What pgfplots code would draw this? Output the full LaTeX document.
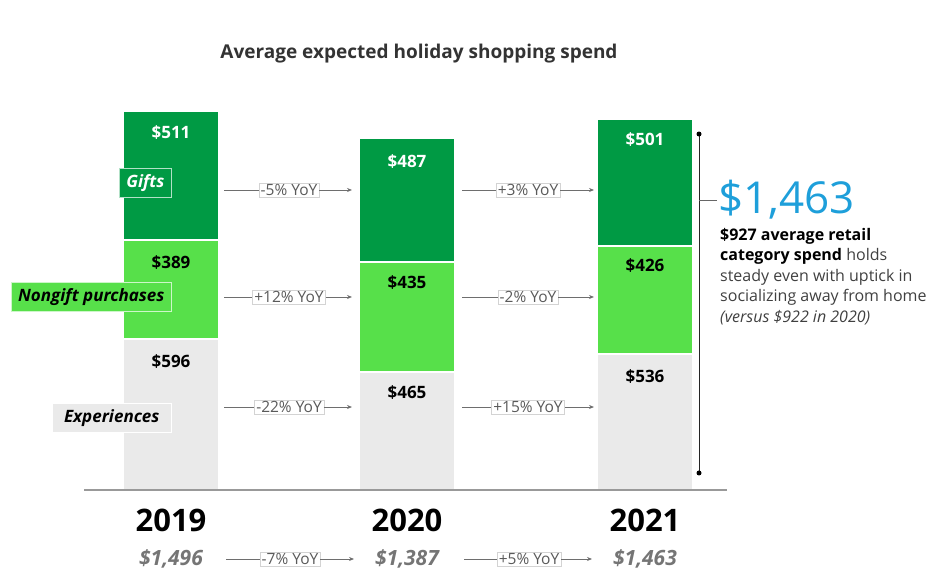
\documentclass[border=0pt]{standalone}
\usepackage{fontspec}
\setmainfont{Open Sans}
\usepackage{pgfplots}
\pgfplotsset{compat=1.18}
\usetikzlibrary{arrows.meta}
\definecolor{giftg}{HTML}{009A44}
\definecolor{nong}{HTML}{57E04A}
\definecolor{expg}{HTML}{EAEAEA}
\definecolor{arrowg}{HTML}{6E6E6E}
\definecolor{boxg}{HTML}{D3D3D3}
\definecolor{txtg}{HTML}{5A5A5A}
\definecolor{blueone}{HTML}{1E9FDA}
\definecolor{sumg}{HTML}{757575}
\definecolor{titleg}{HTML}{333333}
\definecolor{parag}{HTML}{404040}
\tikzset{
  yoyline/.style={arrowg, line width=0.8pt},
  yoyarrow/.style={arrowg, line width=0.8pt, -{Stealth[length=5pt,width=4pt]}},
  yoybox/.style={draw=boxg, fill=white, text=txtg, font=\fontsize{15.5}{17}\selectfont, inner xsep=2pt, inner ysep=1.5pt},
  vallab/.style={font=\fontsize{17}{20}\selectfont\bfseries},
  catlab/.style={anchor=east, line width=1pt, minimum height=29pt, font=\fontsize{17}{20}\selectfont\bfseries\itshape},
  yearlab/.style={font=\fontsize{31}{34}\selectfont\bfseries, text=black},
  sumlab/.style={font=\fontsize{21}{24}\selectfont\bfseries\itshape, text=sumg},
}
\begin{document}
\begin{tikzpicture}
\begin{axis}[
  width=935pt, height=584pt, scale only axis,
  xmin=0, xmax=935, ymin=-370.83, ymax=1933.05,
  hide axis, clip=false,
  ybar, bar width=96pt, bar shift=0pt,
]
% cumulative tops: experiences + nongift + gifts (511/389/596, 487/435/465, 501/426/536)
\addplot[fill=giftg, draw=white, line width=2pt] coordinates {(171,1496) (407,1387) (645,1463)};
\addplot[fill=nong, draw=white, line width=2pt] coordinates {(171,985) (407,900) (645,962)};
\addplot[fill=expg, draw=white, line width=2pt] coordinates {(171,596) (407,465) (645,536)};

\path (rel axis cs:0,0) rectangle (rel axis cs:1,1);

\draw[black!40, line width=2pt] (axis cs:84,0) -- (axis cs:727,0);

\node[font=\fontsize{19}{22}\selectfont\bfseries, text=titleg] at (axis cs:419,1720) {Average expected holiday shopping spend};

\node[vallab, text=white] at (axis cs:171,1412) {\$511};
\node[vallab, text=black] at (axis cs:171,899) {\$389};
\node[vallab, text=black] at (axis cs:171,505) {\$596};
\node[vallab, text=white] at (axis cs:407,1294) {\$487};
\node[vallab, text=black] at (axis cs:407,817) {\$435};
\node[vallab, text=black] at (axis cs:407,383) {\$465};
\node[vallab, text=white] at (axis cs:645,1381) {\$501};
\node[vallab, text=black] at (axis cs:645,884) {\$426};
\node[vallab, text=black] at (axis cs:645,446) {\$536};

\node[catlab, fill=giftg, draw=white!70!giftg, text=white, inner xsep=7pt] at (axis cs:172,1211) {Gifts};
\node[catlab, fill=nong, draw=white!70!nong, text=black, inner xsep=7pt] at (axis cs:172,761) {Nongift purchases};
\node[catlab, fill=expg, draw=white, text=black, inner xsep=12pt] at (axis cs:172,284) {Experiences};

\node[yoybox] (a1) at (axis cs:289,1183.5) {-5\% YoY};
\draw[yoyline] (axis cs:224,1183.5) -- (a1.west); \draw[yoyarrow] (a1.east) -- (axis cs:352,1183.5);
\node[yoybox] (a2) at (axis cs:289,761.4) {+12\% YoY};
\draw[yoyline] (axis cs:224,761.4) -- (a2.west); \draw[yoyarrow] (a2.east) -- (axis cs:352,761.4);
\node[yoybox] (a3) at (axis cs:289,327.4) {-22\% YoY};
\draw[yoyline] (axis cs:224,327.4) -- (a3.west); \draw[yoyarrow] (a3.east) -- (axis cs:352,327.4);
\node[yoybox] (b1) at (axis cs:528,1183.5) {+3\% YoY};
\draw[yoyline] (axis cs:462,1183.5) -- (b1.west); \draw[yoyarrow] (b1.east) -- (axis cs:594,1183.5);
\node[yoybox] (b2) at (axis cs:528,761.4) {-2\% YoY};
\draw[yoyline] (axis cs:462,761.4) -- (b2.west); \draw[yoyarrow] (b2.east) -- (axis cs:594,761.4);
\node[yoybox] (b3) at (axis cs:528,327.4) {+15\% YoY};
\draw[yoyline] (axis cs:462,327.4) -- (b3.west); \draw[yoyarrow] (b3.east) -- (axis cs:594,327.4);
\node[yoybox] (c1) at (axis cs:290,-272.2) {-7\% YoY};
\draw[yoyline] (axis cs:226,-272.2) -- (c1.west); \draw[yoyarrow] (c1.east) -- (axis cs:354,-272.2);
\node[yoybox] (c2) at (axis cs:529,-272.2) {+5\% YoY};
\draw[yoyline] (axis cs:464,-272.2) -- (c2.west); \draw[yoyarrow] (c2.east) -- (axis cs:592,-272.2);

\node[yearlab] at (axis cs:171,-118.4) {2019};
\node[yearlab] at (axis cs:407,-118.4) {2020};
\node[yearlab] at (axis cs:645,-118.4) {2021};
\node[sumlab] at (axis cs:171,-272.2) {\$1,496};
\node[sumlab] at (axis cs:407,-272.2) {\$1,387};
\node[sumlab] at (axis cs:645,-272.2) {\$1,463};

\draw[black!85, line width=1pt] (axis cs:699,1404.4) -- (axis cs:699,67.1);
\fill[black] (axis cs:699,1404.4) circle[radius=2.5pt];
\fill[black] (axis cs:699,67.1) circle[radius=2.5pt];
\draw[black!60, line width=0.8pt] (axis cs:699,1144) -- (axis cs:717,1144);
\node[anchor=west, text=blueone, font=\fontsize{44}{50}\selectfont, inner sep=0pt] at (axis cs:718,1144) {\$1,463};
\node[anchor=north west, inner sep=0pt, align=left, text=parag, font=\fontsize{16}{20.5}\selectfont] at (axis cs:720,1033.6) {%
\textbf{\textcolor{black}{\$927 average retail}}\\
\textbf{\textcolor{black}{category spend}} holds\\
steady even with uptick in\\
socializing away from home\\
\textit{(versus \$922 in 2020)}};
\end{axis}
\end{tikzpicture}
\end{document}
